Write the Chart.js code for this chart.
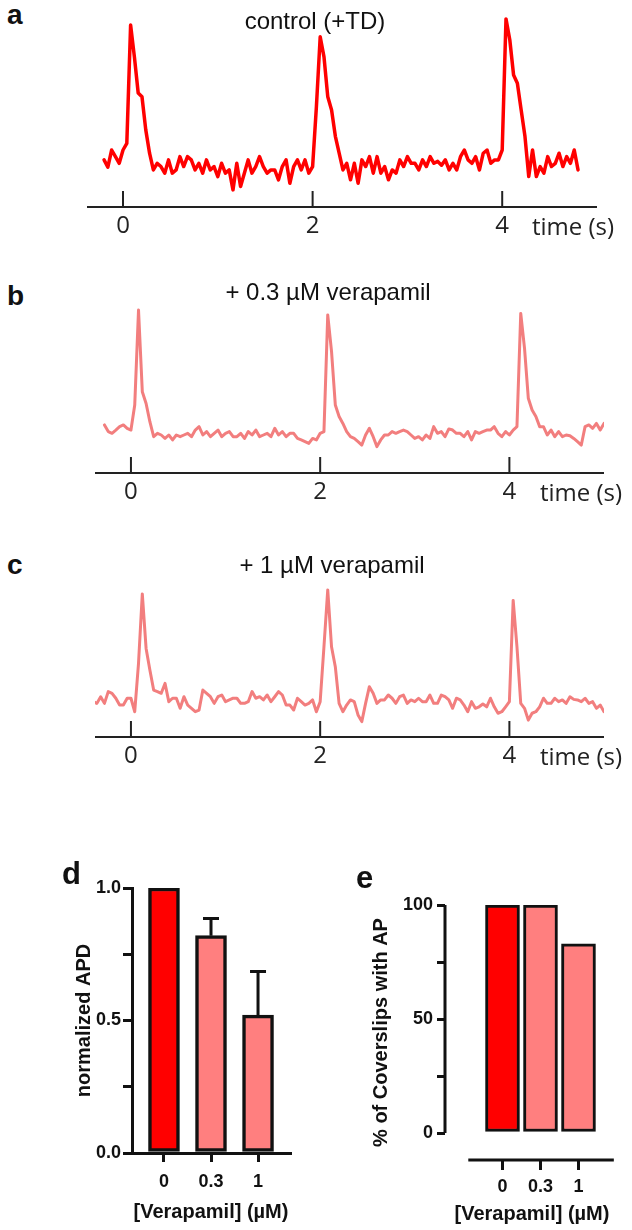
<!DOCTYPE html>
<html>
<head>
<meta charset="utf-8">
<script src="https://cdn.jsdelivr.net/npm/chart.js@4.4.0/dist/chart.umd.min.js"></script>
<style>
  body { margin: 0; background: #fff; }
  #page { position: relative; width: 632px; height: 1230px; overflow: hidden;
          font-family: "Liberation Sans", Arial, sans-serif; color: #111; }
  canvas { position: absolute; }
  .txt { position: absolute; white-space: nowrap; }
  .letter { font-weight: bold; font-size: 28px; line-height: 28px; }
  .big { font-size: 31px; line-height: 31px; }
  .ttl { font-size: 24px; line-height: 24px; width: 400px; text-align: center; }
  .unit { font-family: "Open Sans", sans-serif; font-size: 24px; line-height: 24px; color: #222; }
</style>
</head>
<body>
<div id="page">
  <canvas id="traceA" width="510" height="240" style="left:87px;top:7px"></canvas>
  <canvas id="traceB" width="509" height="240" style="left:95px;top:273px"></canvas>
  <canvas id="traceC" width="509" height="240" style="left:95px;top:537px"></canvas>
  <canvas id="barD" width="240" height="370" style="left:60px;top:860px"></canvas>
  <canvas id="barE" width="279" height="360" style="left:350px;top:870px"></canvas>

  <div class="txt letter" style="left:7px;top:1px">a</div>
  <div class="txt ttl" style="left:115px;top:9px">control (+TD)</div>
  <div class="txt unit" style="left:532px;top:214px">time (s)</div>

  <div class="txt letter" style="left:7px;top:282px">b</div>
  <div class="txt ttl" style="left:128px;top:280px">+ 0.3 µM verapamil</div>
  <div class="txt unit" style="left:540px;top:480px">time (s)</div>

  <div class="txt letter" style="left:7px;top:551px">c</div>
  <div class="txt ttl" style="left:132px;top:553px">+ 1 µM verapamil</div>
  <div class="txt unit" style="left:540px;top:744px">time (s)</div>

  <div class="txt letter big" style="left:62px;top:858px">d</div>
  <div class="txt letter big" style="left:356px;top:862px">e</div>
</div>

<script>
// sample times (s) shared by the three traces
const traceTimes = [
  -0.40, -0.36, -0.32, -0.28, -0.24, -0.20, -0.16, -0.12, -0.08, -0.04,
  0.00, 0.04, 0.08, 0.12, 0.16, 0.20, 0.24, 0.28, 0.32, 0.36,
  0.40, 0.44, 0.48, 0.52, 0.56, 0.60, 0.64, 0.68, 0.72, 0.76,
  0.80, 0.84, 0.88, 0.92, 0.96, 1.00, 1.04, 1.08, 1.12, 1.16,
  1.20, 1.24, 1.28, 1.32, 1.36, 1.40, 1.44, 1.48, 1.52, 1.56,
  1.60, 1.64, 1.68, 1.72, 1.76, 1.80, 1.84, 1.88, 1.92, 1.96,
  2.00, 2.04, 2.08, 2.12, 2.16, 2.20, 2.24, 2.28, 2.32, 2.36,
  2.40, 2.44, 2.48, 2.52, 2.56, 2.60, 2.64, 2.68, 2.72, 2.76,
  2.80, 2.84, 2.88, 2.92, 2.96, 3.00, 3.04, 3.08, 3.12, 3.16,
  3.20, 3.24, 3.28, 3.32, 3.36, 3.40, 3.44, 3.48, 3.52, 3.56,
  3.60, 3.64, 3.68, 3.72, 3.76, 3.80, 3.84, 3.88, 3.92, 3.96,
  4.00, 4.04, 4.08, 4.12, 4.16, 4.20, 4.24, 4.28, 4.32, 4.36,
  4.40, 4.44, 4.48, 4.52, 4.56, 4.60, 4.64, 4.68, 4.72, 4.76,
  4.80, 4.84, 4.88, 4.92, 4.96, 5.00
];

// fluorescence (a.u.)
const controlTD = [
  null, null, null, null, null, 24.8, 21, 30, 26.5, 23,
  30, 33.5, 95.8, 79, 60, 58, 40.6, 28.3, 19.5, 23,
  21.3, 17.8, 24.8, 17.8, 19.5, 26.5, 21.3, 26.5, 24.8, 19.5,
  23, 17.8, 24.8, 19.5, 21.3, 16, 23, 17.8, 19.5, 9,
  23, 10.8, 17.8, 24.8, 17.8, 21.3, 26.5, 21.3, 17.8, 19.5,
  19.5, 14.3, 21.3, 24.8, 12.5, 21.3, 24.8, 19.5, 24.8, 17.8,
  21.3, 52.8, 89.6, 79, 58, 51.1, 37.2, 28.3, 19.5, 23,
  14.3, 23, 12.5, 24.8, 21.3, 26.5, 17.8, 26.5, 17.8, 21.3,
  14.3, 19.5, 17.8, 24.8, 21.3, 26.5, 23, 23, 19.5, 24.8,
  21.3, 26.5, 23, 24, 22, 24.8, 19.5, 23, 19.5, 26.5,
  30, 24.8, 23, 26.5, 19.5, 28.3, 30, 23, 24.8, 24.8,
  30, 99, 88, 69.5, 65.1, 51, 37.2, 16, 30, 16,
  21.3, 17.8, 26.5, 21.3, 23, 28.3, 21.3, 26.5, 23, 30,
  19.5, null, null, null, null, null
];
const verapamil03 = [
  null, null, null, 25.3, 21.8, 20.9, 22.6, 24.4, 25.3, 23.5,
  22.6, 35.8, 85.8, 42.8, 36.6, 27.0, 19.1, 20.9, 20.0, 18.2,
  20.0, 17.4, 20.0, 19.1, 20.0, 20.9, 19.1, 22.6, 24.4, 20.0,
  21.8, 19.1, 20.9, 22.6, 19.1, 20.9, 21.8, 19.1, 19.1, 20.9,
  18.2, 21.8, 20.0, 22.6, 19.1, 20.0, 20.9, 19.1, 23.5, 20.0,
  21.8, 19.1, 20.9, 20.9, 18.2, 17.4, 16.5, 15.6, 18.2, 17.4,
  20.9, 21.8, 83.2, 64, 35.8, 29.7, 26.1, 21.8, 19.1, 18.2,
  16.5, 14.7, 20.0, 23.5, 19.1, 13.9, 17.4, 20.0, 20.0, 21.8,
  20.9, 21.8, 22.6, 21.8, 20.0, 18.2, 19.1, 17.4, 20.0, 18.2,
  24.4, 20.9, 21.8, 19.1, 23.2, 22.6, 20.9, 20.9, 19.1, 21.8,
  17.4, 21.8, 20.9, 21.8, 22.6, 22.6, 24.4, 20.9, 19.1, 21.8,
  20.0, 22.6, 24.4, 84.0, 65.6, 39.3, 33.2, 29.7, 24.4, 24.4,
  20.0, 22.6, 19.1, 21.8, 19.1, 20.0, 19.6, 18.2, 16.5, 14.7,
  24.4, 25.3, 23.5, 26.1, 22.6, 26.1
];
const verapamil1 = [
  18.6, 17.7, 21.2, 17.7, 23.9, 23.0, 20.4, 16.8, 16.8, 20.4,
  20.4, 13.3, 38.8, 75.3, 46.6, 35.3, 24.7, 23.9, 23.0, 28.2,
  18.6, 20.4, 20.4, 15.1, 21.2, 16.8, 15.1, 13.3, 14.2, 24.7,
  23.0, 21.2, 17.7, 21.2, 22.1, 18.6, 19.5, 20.4, 20.4, 17.7,
  17.7, 18.6, 23.9, 20.4, 21.2, 19.5, 22.1, 18.6, 21.2, 23.9,
  22.1, 16.8, 16.8, 14.2, 20.4, 18.6, 16.8, 17.7, 19.5, 13.3,
  18.6, 47.5, 77.4, 47.5, 37.0, 17.7, 13.3, 16.8, 19.5, 18.6,
  11.6, 8.1, 17.7, 26.5, 23.0, 17.7, 19.5, 19.5, 22.1, 20.4,
  17.7, 21.2, 22.1, 17.7, 19.5, 18.6, 20.4, 18.6, 18.6, 22.1,
  17.7, 17.7, 22.1, 21.2, 19.5, 15.1, 20.4, 19.5, 16.8, 13.3,
  18.6, 15.1, 15.9, 17.4, 15.9, 20.4, 15.9, 12.5, 13.3, 15.9,
  18.6, 71.9, 47.5, 17.7, 15.1, 8.9, 12.5, 13.3, 15.9, 20.4,
  17.7, 17.7, 20.4, 18.6, 19.5, 17.7, 21.2, 19.8, 19.5, 18.6,
  20.4, 17.7, 18.6, 15.1, 16.8, 13.3
];
const timeTicks = [0, 2, 4];
const timeRange = [-0.38, 5.0];
const signalRange = [0, 100];

// bar panels
const doseLabels = ['0', '0.3', '1'];
const apdMean = [1.0, 0.82, 0.52];
const apdSem = [0, 0.065, 0.165];
const apdTicks = [0, 0.25, 0.5, 0.75, 1.0];
const apdTickLabels = [0, 0.5, 1.0];
const coverslipPct = [100, 100, 83];
const coverTicks = [0, 25, 50, 75, 100];
const coverTickLabels = [0, 50, 100];
const barColors = ['#ff0000', '#ff7f7f', '#ff7f7f'];

const INK = '#111';
const boldFont = (size) => ({ family: 'Liberation Sans', size: size, weight: 'bold' });

// short tick marks pointing up from the time axis
const innerTicks = {
  id: 'innerTicks',
  afterDraw(chart) {
    const x = chart.scales.x;
    const ctx = chart.ctx;
    ctx.save();
    ctx.strokeStyle = '#222';
    ctx.lineWidth = 2;
    x.ticks.forEach(t => {
      const px = x.getPixelForValue(t.value);
      ctx.beginPath();
      ctx.moveTo(px, x.top);
      ctx.lineTo(px, x.top - 16);
      ctx.stroke();
    });
    ctx.restore();
  }
};

function traceChart(id, values, color, width) {
  const points = traceTimes
    .map((t, i) => ({ x: t, y: values[i] }))
    .filter(p => p.y !== null);
  return new Chart(document.getElementById(id), {
    type: 'line',
    data: {
      datasets: [{
        data: points,
        borderColor: color,
        borderWidth: width,
        pointRadius: 0,
        tension: 0,
        clip: false,
        borderJoinStyle: 'round',
        borderCapStyle: 'round'
      }]
    },
    options: {
      responsive: false,
      animation: false,
      events: [],
      layout: { padding: { top: 10 } },
      plugins: { legend: { display: false }, tooltip: { enabled: false } },
      scales: {
        x: {
          type: 'linear',
          min: timeRange[0],
          max: timeRange[1],
          afterBuildTicks: s => { s.ticks = timeTicks.map(v => ({ value: v })); },
          afterFit: s => { s.height = 40; },
          grid: { display: false, drawTicks: false },
          border: { display: true, color: '#222', width: 2 },
          ticks: {
            padding: 5, color: '#222', autoSkip: false, maxRotation: 0,
            font: { family: 'Open Sans', size: 24 }
          }
        },
        y: { display: false, min: signalRange[0], max: signalRange[1] }
      }
    },
    plugins: [innerTicks]
  });
}

traceChart('traceA', controlTD, '#ff0000', 3.5);
traceChart('traceB', verapamil03, '#f27e7e', 3);
traceChart('traceC', verapamil1, '#f27e7e', 3);

// SEM whiskers (upward only)
const errorBars = {
  id: 'errorBars',
  afterDatasetsDraw(chart) {
    const y = chart.scales.y;
    const ctx = chart.ctx;
    const meta = chart.getDatasetMeta(0);
    ctx.save();
    ctx.strokeStyle = INK;
    ctx.lineWidth = 3;
    meta.data.forEach((bar, i) => {
      if (!apdSem[i]) return;
      const top = y.getPixelForValue(apdMean[i] + apdSem[i]);
      ctx.beginPath();
      ctx.moveTo(bar.x, bar.y);
      ctx.lineTo(bar.x, top);
      ctx.moveTo(bar.x - 8, top);
      ctx.lineTo(bar.x + 8, top);
      ctx.stroke();
    });
    ctx.restore();
  }
};

new Chart(document.getElementById('barD'), {
  type: 'bar',
  data: {
    datasets: [{
      data: doseLabels.map((_, i) => ({ x: i, y: apdMean[i] })),
      backgroundColor: barColors,
      borderColor: INK,
      borderWidth: 3.5,
      borderSkipped: false,
      barThickness: 31
    }]
  },
  options: {
    responsive: false,
    animation: false,
    events: [],
    layout: { padding: { top: 28, right: 10 } },
    plugins: { legend: { display: false }, tooltip: { enabled: false } },
    scales: {
      x: {
        type: 'linear', min: -0.68, max: 2.68, offset: false,
        afterBuildTicks: s => { s.ticks = doseLabels.map((_, i) => ({ value: i })); },
        afterFit: s => { s.height = 77; },
        grid: { offset: false, drawOnChartArea: false, drawTicks: true, tickLength: 9, color: INK, lineWidth: 3 },
        border: { color: INK, width: 3 },
        ticks: { callback: v => doseLabels[v], padding: 9, color: INK, autoSkip: false, maxRotation: 0, font: boldFont(18) },
        title: { display: true, text: '[Verapamil] (µM)', color: INK, padding: { top: 0, bottom: 6 }, font: boldFont(20) }
      },
      y: {
        min: 0, max: 1,
        afterBuildTicks: s => { s.ticks = apdTicks.map(v => ({ value: v })); },
        afterFit: s => { s.width = 72; },
        grid: { drawOnChartArea: false, drawTicks: true, tickLength: 9, color: INK, lineWidth: 3 },
        border: { color: INK, width: 3 },
        ticks: { callback: v => apdTickLabels.includes(v) ? v.toFixed(1) : '', padding: 2, color: INK, font: boldFont(18) },
        title: { display: true, text: 'normalized APD', color: INK, padding: { top: 12, bottom: 0 }, font: boldFont(20) }
      }
    }
  },
  plugins: [errorBars]
});

// panel e has its x axis set apart below the bars
const axisSpanE = [-0.9, 2.93];
const detachedAxes = {
  id: 'detachedAxes',
  afterDraw(chart) {
    const { x, y } = chart.scales;
    const area = chart.chartArea;
    const ctx = chart.ctx;
    ctx.save();
    ctx.strokeStyle = INK;
    ctx.lineWidth = 3;
    ctx.beginPath();
    ctx.moveTo(area.left, y.getPixelForValue(coverTicks[0]));
    ctx.lineTo(area.left, y.getPixelForValue(coverTicks[coverTicks.length - 1]));
    ctx.moveTo(x.getPixelForValue(axisSpanE[0]), area.bottom);
    ctx.lineTo(x.getPixelForValue(axisSpanE[1]), area.bottom);
    ctx.stroke();
    ctx.restore();
  }
};

new Chart(document.getElementById('barE'), {
  type: 'bar',
  data: {
    datasets: [{
      data: doseLabels.map((_, i) => ({ x: i, y: coverslipPct[i] })),
      backgroundColor: barColors,
      borderColor: INK,
      borderWidth: 3,
      borderSkipped: false,
      barThickness: 34
    }]
  },
  options: {
    responsive: false,
    animation: false,
    events: [],
    layout: { padding: { top: 35, right: 10 } },
    plugins: { legend: { display: false }, tooltip: { enabled: false } },
    scales: {
      x: {
        type: 'linear', min: -1.513, max: 3.066, offset: false,
        afterBuildTicks: s => { s.ticks = doseLabels.map((_, i) => ({ value: i })); },
        afterFit: s => { s.height = 70; },
        grid: { offset: false, drawOnChartArea: false, drawTicks: true, tickLength: 10, color: INK, lineWidth: 3 },
        border: { display: false },
        ticks: { callback: v => doseLabels[v], padding: 6, color: INK, autoSkip: false, maxRotation: 0, font: boldFont(18) },
        title: { display: true, text: '[Verapamil] (µM)', color: INK, padding: { top: 0, bottom: 4 }, font: boldFont(20) }
      },
      y: {
        min: -11.84, max: 100,
        afterBuildTicks: s => { s.ticks = coverTicks.map(v => ({ value: v })); },
        afterFit: s => { s.width = 95; },
        grid: { drawOnChartArea: false, drawTicks: true, tickLength: 8, color: INK, lineWidth: 3 },
        border: { display: false },
        ticks: { callback: v => coverTickLabels.includes(v) ? String(v) : '', padding: 4, color: INK, font: boldFont(18) },
        title: { display: true, text: '% of Coverslips with AP', color: INK, padding: { top: 19, bottom: 0 }, font: boldFont(20) }
      }
    }
  },
  plugins: [detachedAxes]
});
</script>
</body>
</html>
